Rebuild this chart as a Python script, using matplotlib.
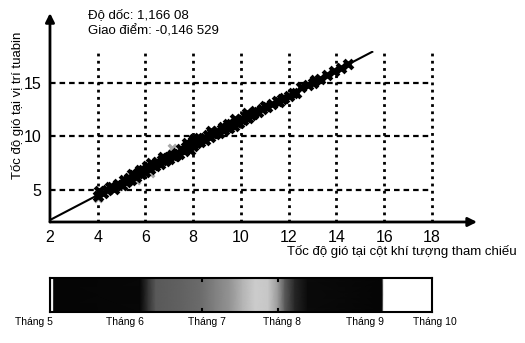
import numpy as np
import matplotlib
matplotlib.use("Agg")
import matplotlib.pyplot as plt

plt.rcParams['font.family'] = ['Liberation Sans', 'DejaVu Sans']

# regression values shown on chart
slope = 1.16608
intercept = -0.146529
line_x = [2.0, 15.5]

# scatter (black crosses)
pts_x = [4.0, 4.05, 4.2, 4.4, 4.6, 4.7, 4.85, 5.0, 5.1, 5.2, 5.3, 5.4, 5.5, 5.6,
         5.7, 5.8, 5.9, 6.0, 6.1, 6.2, 6.3, 6.4, 6.5, 6.6, 6.7, 6.8, 6.9, 7.0,
         7.1, 7.2, 7.3, 7.4, 7.5, 7.6, 7.7, 7.8, 7.9, 8.0, 8.0, 8.1, 8.2, 8.3,
         8.4, 8.5, 8.6, 8.7, 8.8, 8.9, 9.0, 9.1, 9.2, 9.3, 9.4, 9.5, 9.6, 9.7,
         9.8, 9.9, 10.0, 10.1, 10.2, 10.3, 10.4, 10.5, 10.7, 10.9, 11.1, 11.3,
         11.5, 11.6, 11.8, 12.0, 12.2, 12.5, 12.8, 13.0, 13.3, 13.6, 13.9, 14.2,
         14.5,
         4.5, 5.25, 5.75, 6.25, 6.75, 7.25, 7.75, 8.25, 8.75, 9.25, 9.75,
         10.25, 10.6, 11.0, 11.7, 12.3, 13.1, 8.05, 7.85, 9.45, 6.05, 5.45]
pts_y = [4.4, 4.9, 4.75, 5.0, 5.3, 5.1, 5.6, 5.5, 5.9, 5.7, 6.1, 5.95, 6.4, 6.2,
         6.6, 6.5, 6.9, 6.7, 7.1, 6.95, 7.3, 7.2, 7.6, 7.45, 7.8, 7.7, 8.0, 7.9,
         8.3, 8.2, 8.5, 8.4, 8.8, 8.6, 9.0, 8.9, 9.3, 9.1, 9.6, 9.4, 9.7, 9.5,
         9.9, 9.7, 10.1, 9.95, 10.3, 10.2, 10.5, 10.35, 10.7, 10.6, 10.9, 10.8,
         11.15, 11.0, 11.4, 11.3, 11.6, 11.5, 11.85, 11.7, 12.0, 12.1, 12.3,
         12.6, 12.8, 13.0, 13.3, 13.2, 13.6, 13.8, 14.1, 14.6, 14.8, 15.0, 15.4,
         15.8, 16.1, 16.4, 16.8,
         5.3, 5.9, 6.9, 7.5, 8.1, 8.2, 9.4, 9.9, 10.5, 10.9, 11.6,
         12.2, 12.4, 12.9, 13.5, 14.1, 15.3, 9.75, 8.75, 11.2, 7.2, 6.5]
# lighter (grey) points
grey_x = [4.0, 5.0, 5.6, 6.2, 6.5, 7.1]
grey_y = [4.2, 5.35, 5.95, 6.6, 7.7, 8.9]

x_ticks = [2, 4, 6, 8, 10, 12, 14, 16, 18]
y_ticks = [5, 10, 15]

# time strip: position along the strip (0..1) and brightness
bar_pos = [0.0, 0.008, 0.01, 0.236, 0.257, 0.277, 0.34, 0.393, 0.432, 0.471,
           0.503, 0.537, 0.571, 0.597, 0.615, 0.641, 0.675, 0.869, 0.874, 1.0]
bar_level = [0.95, 0.95, 0.02, 0.03, 0.2, 0.35, 0.38, 0.42, 0.5, 0.58,
             0.7, 0.8, 0.78, 0.6, 0.35, 0.15, 0.04, 0.02, 1.0, 1.0]
month_labels = ['Tháng 5', 'Tháng 6', 'Tháng 7', 'Tháng 8', 'Tháng 9', 'Tháng 10']
month_pos = [-0.042, 0.196, 0.411, 0.607, 0.825, 1.008]
bar_marks = [0.397, 0.596]

fig = plt.figure(figsize=(5.25, 3.43), dpi=100)
ax = fig.add_axes([0.0952, 0.3528, 0.7276, 0.4985])
ax.set_xlim(2, 18)
ax.set_ylim(2, 18)
for s in ax.spines.values():
    s.set_visible(False)

for xv in x_ticks[1:]:
    ax.axvline(xv, color='k', lw=2, linestyle=(0, (1, 1.6)), zorder=1, clip_on=False)
for yv in y_ticks:
    ax.axhline(yv, color='k', lw=1.6, linestyle=(0, (2.5, 1.8)), zorder=1)

ax.scatter(grey_x, grey_y, marker='x', s=30, linewidths=2.4, color='#a8a8a8', zorder=2)
ax.scatter(pts_x, pts_y, marker='x', s=40, linewidths=3.0, color='k', zorder=3)
lx = np.array(line_x)
ax.plot(lx, slope * lx + intercept, color='k', lw=1.5, zorder=5)

ax.set_xticks(x_ticks)
ax.set_yticks(y_ticks)
ax.tick_params(length=0, labelsize=11.5, pad=6)

# axes with arrow heads
ax.annotate('', xy=(0, 1.222), xytext=(0, 0), xycoords='axes fraction',
            arrowprops=dict(arrowstyle='-|>', lw=2, color='k', mutation_scale=13,
                            shrinkA=0, shrinkB=0), annotation_clip=False)
ax.annotate('', xy=(1.118, 0), xytext=(0, 0), xycoords='axes fraction',
            arrowprops=dict(arrowstyle='-|>', lw=2, color='k', mutation_scale=13,
                            shrinkA=0, shrinkB=0), annotation_clip=False)

fig.text(88 / 525, 1 - 15 / 343, 'Độ dốc: 1,166 08', fontsize=9.5, va='center')
fig.text(88 / 525, 1 - 31 / 343, 'Giao điểm: -0,146 529', fontsize=9.5, va='center')
fig.text(18 / 525, 1 - 105 / 343, 'Tốc độ gió tại vị trí tuabin', fontsize=9.5,
         rotation=90, ha='center', va='center')
fig.text(402 / 525, 1 - 252 / 343, 'Tốc độ gió tại cột khí tượng tham chiếu',
         fontsize=9.5, ha='center', va='center')

# time strip
bx = fig.add_axes([0.0952, 0.0904, 0.7276, 0.0991])
bx.pcolormesh(bar_pos, [0, 1], [bar_level, bar_level], shading='gouraud',
              cmap='gray', vmin=0, vmax=1)
bx.set_xlim(0, 1)
bx.set_ylim(0, 1)
bx.set_xticks([])
bx.set_yticks([])
for s in bx.spines.values():
    s.set_linewidth(1.5)
for m in bar_marks:
    bx.plot([m, m], [0.92, 1.0], color='k', lw=1.5)
    bx.plot([m, m], [0.0, 0.08], color='k', lw=1.5)
for lab, p in zip(month_labels, month_pos):
    bx.text(p, -0.3, lab, fontsize=7.5, ha='center', va='center',
            transform=bx.transAxes)

fig.savefig('out.png', dpi=100)
